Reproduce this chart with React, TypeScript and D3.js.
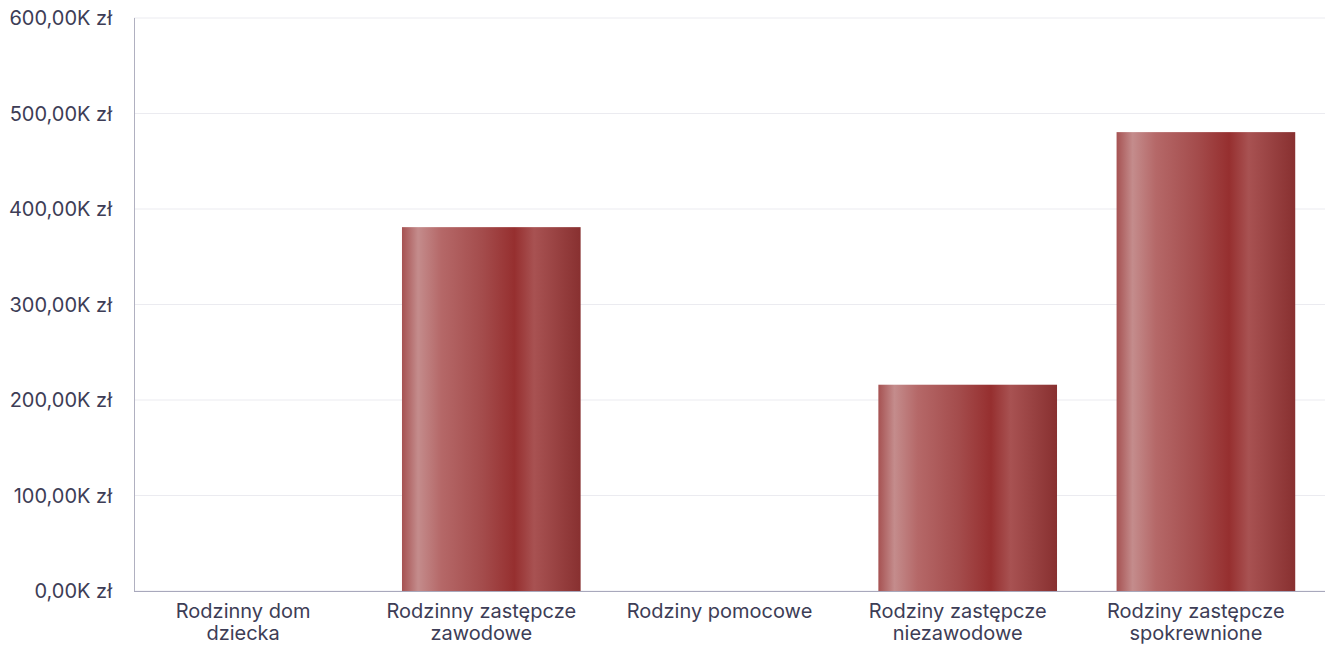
import { useEffect, useRef } from 'react';
import * as d3 from 'd3';

const categories = [
  ['Rodzinny dom', 'dziecka'],
  ['Rodzinny zastępcze', 'zawodowe'],
  ['Rodziny pomocowe'],
  ['Rodziny zastępcze', 'niezawodowe'],
  ['Rodziny zastępcze', 'spokrewnione'],
];
const values = [0, 381, 0, 216, 480.5];
const yTicks = [0, 100, 200, 300, 400, 500, 600];

const WIDTH = 1327;
const HEIGHT = 647;
const FONT = 'Inter, "Noto Sans", sans-serif';
const TEXT = '#3d3d56';

export default function App() {
  const svgRef = useRef<SVGSVGElement>(null);

  useEffect(() => {
    if (!svgRef.current) return;
    const svg = d3.select(svgRef.current);
    svg.selectAll('*').remove();

    const margin = { top: 18, right: 2, bottom: 56, left: 134 };
    const innerWidth = WIDTH - margin.left - margin.right;
    const innerHeight = HEIGHT - margin.top - margin.bottom;

    const keys = categories.map((c) => c.join(' '));

    // bar gradient
    const grad = svg
      .append('defs')
      .append('linearGradient')
      .attr('id', 'barGrad')
      .attr('x1', '0%')
      .attr('x2', '100%')
      .attr('y1', '0%')
      .attr('y2', '0%');
    const stops: [string, string][] = [
      ['0%', '#a65252'],
      ['9%', '#c48c8c'],
      ['22%', '#b56868'],
      ['45%', '#a44c4c'],
      ['63%', '#962f2f'],
      ['74%', '#a85252'],
      ['100%', '#883030'],
    ];
    stops.forEach(([o, c]) => grad.append('stop').attr('offset', o).attr('stop-color', c));

    const g = svg.append('g').attr('transform', `translate(${margin.left},${margin.top})`);

    const x = d3.scaleBand().domain(keys).range([0, innerWidth]).paddingInner(0.25).paddingOuter(0.125);
    const y = d3.scaleLinear().domain([0, 600]).range([innerHeight, 0]);

    // grid
    g.selectAll('.grid')
      .data(yTicks)
      .enter()
      .append('line')
      .attr('x1', 0)
      .attr('x2', innerWidth)
      .attr('y1', (d) => y(d))
      .attr('y2', (d) => y(d))
      .attr('stroke', '#ebebf0')
      .attr('stroke-width', 1);

    // y labels
    g.selectAll('.ylabel')
      .data(yTicks)
      .enter()
      .append('text')
      .attr('x', -22)
      .attr('y', (d) => y(d))
      .attr('dy', '0.35em')
      .attr('text-anchor', 'end')
      .attr('fill', TEXT)
      .attr('font-family', FONT)
      .attr('font-size', '20px')
      .text((d) => `${d},00K zł`);

    // bars
    g.selectAll('.bar')
      .data(values)
      .enter()
      .append('rect')
      .attr('x', (_d, i) => x(keys[i]) || 0)
      .attr('y', (d) => y(d))
      .attr('width', x.bandwidth())
      .attr('height', (d) => innerHeight - y(d))
      .attr('fill', 'url(#barGrad)');

    // axes lines
    g.append('line')
      .attr('x1', 0.5)
      .attr('x2', 0.5)
      .attr('y1', 0)
      .attr('y2', innerHeight)
      .attr('stroke', '#b0b0c0');
    g.append('line')
      .attr('x1', 0)
      .attr('x2', innerWidth)
      .attr('y1', innerHeight + 0.5)
      .attr('y2', innerHeight + 0.5)
      .attr('stroke', '#a8a8bc');

    // x labels (sit slightly left of band centre, as in the original)
    const xl = g
      .selectAll('.xlabel')
      .data(categories)
      .enter()
      .append('text')
      .attr('text-anchor', 'middle')
      .attr('fill', TEXT)
      .attr('font-family', FONT)
      .attr('font-size', '20px')
      .attr('transform', (_d, i) => `translate(${(x(keys[i]) || 0) + x.bandwidth() / 2 - 10},${innerHeight + 27})`);
    xl.selectAll('tspan')
      .data((d) => d)
      .enter()
      .append('tspan')
      .attr('x', 0)
      .attr('dy', (_d, i) => (i === 0 ? 0 : 22))
      .text((d) => d);
  }, []);

  return <svg ref={svgRef} width={WIDTH} height={HEIGHT} style={{ position: 'absolute', left: 0, top: 0 }} />;
}
